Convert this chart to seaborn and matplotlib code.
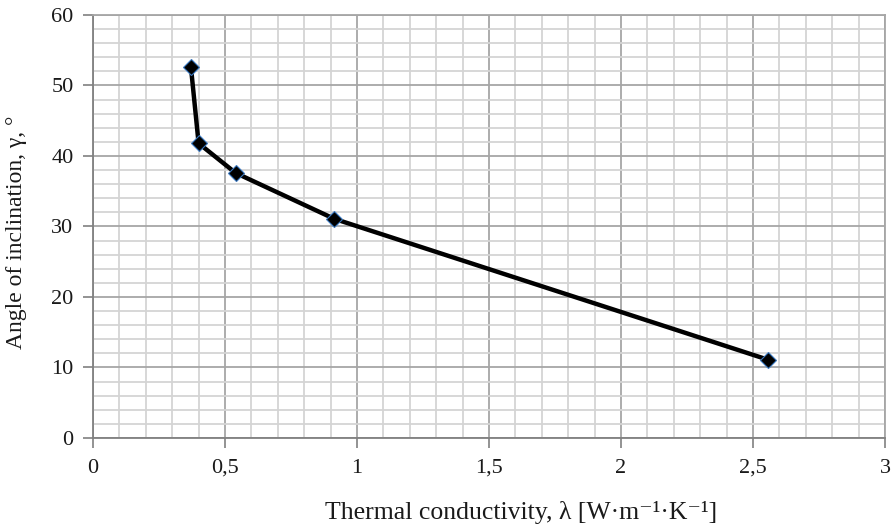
import numpy as np
import matplotlib
matplotlib.use("Agg")
import matplotlib.pyplot as plt
import seaborn as sns
import pandas as pd
from matplotlib.ticker import MultipleLocator, FuncFormatter

# valores
conductividad = [0.371, 0.40, 0.54, 0.913, 2.557]
angulo = [52.6, 41.8, 37.6, 31.1, 11.1]

sns.set_style("white")
plt.rcParams['font.family'] = ['Liberation Serif', 'DejaVu Serif']

df = pd.DataFrame({'lam': conductividad, 'gamma': angulo})

fig = plt.figure(figsize=(8.96, 5.28), dpi=100)
ax = fig.add_axes([0.1038, 0.1705, 0.8839, 0.8011])

sns.lineplot(data=df, x='lam', y='gamma', ax=ax, color='black', linewidth=3.2,
             marker='D', markersize=8, markerfacecolor='black',
             markeredgecolor='#3a78c0', markeredgewidth=0.8, zorder=3)

ax.set_xlim(0, 3)
ax.set_ylim(0, 60)
ax.xaxis.set_major_locator(MultipleLocator(0.5))
ax.xaxis.set_minor_locator(MultipleLocator(0.1))
ax.yaxis.set_major_locator(MultipleLocator(10))
ax.yaxis.set_minor_locator(MultipleLocator(2))
ax.xaxis.set_major_formatter(FuncFormatter(lambda v, p: ('%g' % v).replace('.', ',')))

ax.grid(which='major', color='#a6a6a6', linewidth=1.3)
ax.grid(which='minor', color='#d4d4d4', linewidth=1.3)
ax.set_axisbelow(True)

for s in ax.spines.values():
    s.set_color('#a6a6a6')
    s.set_linewidth(1.3)
ax.spines['left'].set_color('#808080')
ax.spines['bottom'].set_color('#808080')

ax.tick_params(which='major', direction='out', length=7, color='#808080',
               width=1.2, labelsize=16, labelcolor='#1a1a1a',
               bottom=True, left=True)
ax.tick_params(axis='x', which='major', pad=8)
ax.tick_params(axis='y', which='major', pad=7)
ax.tick_params(which='minor', length=0)

ax.set_xlabel('Thermal conductivity, λ [W·m⁻¹·K⁻¹]', fontsize=18.5, color='#1a1a1a')
ax.set_ylabel('Angle of inclination, γ, °', fontsize=17, color='#1a1a1a')
ax.xaxis.set_label_coords(0.54, -0.148)
ax.yaxis.set_label_coords(-0.083, 0.487)

fig.savefig('out.png', dpi=100)
